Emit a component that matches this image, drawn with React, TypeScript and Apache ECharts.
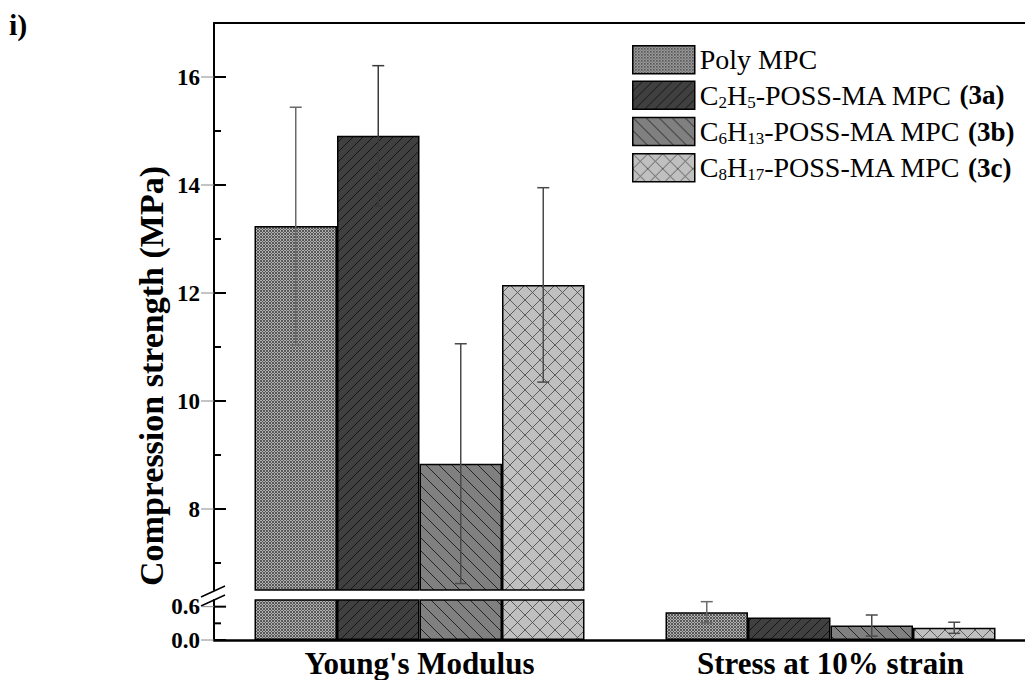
import React, { useEffect, useRef } from "react";
import * as echarts from "echarts";

const categories = ["Young's Modulus", "Stress at 10% strain"];
const seriesNames = [
  "Poly MPC",
  "C2H5-POSS-MA MPC (3a)",
  "C6H13-POSS-MA MPC (3b)",
  "C8H17-POSS-MA MPC (3c)",
];
const polyMPC = [13.24, 0.5];
const c2h5 = [14.91, 0.405];
const c6h13 = [8.84, 0.26];
const c8h17 = [12.15, 0.22];
const polyErr = [2.2, 0.19];
const c2h5Err = [1.3, 0];
const c6h13Err = [2.22, 0.19];
const c8h17Err = [1.8, 0.1];

const upperTicks = [8, 10, 12, 14, 16];
const upperMinor = [7, 9, 11, 13, 15];
const lowerTicks = [0, 0.6];
const lowerMinor = [0.3];

const FONT = "Liberation Serif";
const BAR_W = 82.5;
const AXIS_X = 214;

function makePattern(kind: number) {
  const c = document.createElement("canvas");
  const ctx = c.getContext("2d")!;
  if (kind === 0) {
    c.width = 3;
    c.height = 3;
    ctx.fillStyle = "#b0b0b0";
    ctx.fillRect(0, 0, 3, 3);
    ctx.fillStyle = "#585858";
    ctx.fillRect(0, 0, 1, 1);
    ctx.fillRect(1, 1, 1, 1);
    ctx.fillRect(2, 2, 1, 1);
    ctx.fillRect(2, 0, 1, 1);
    ctx.fillRect(0, 2, 1, 1);
  } else if (kind === 1) {
    const s = 10;
    c.width = s;
    c.height = s;
    ctx.fillStyle = "#404040";
    ctx.fillRect(0, 0, s, s);
    ctx.strokeStyle = "#111";
    ctx.lineWidth = 0.9;
    ctx.beginPath();
    ctx.moveTo(-1, s + 1);
    ctx.lineTo(s + 1, -1);
    ctx.moveTo(-1, 1);
    ctx.lineTo(1, -1);
    ctx.moveTo(s - 1, s + 1);
    ctx.lineTo(s + 1, s - 1);
    ctx.stroke();
  } else if (kind === 2) {
    const s = 13;
    c.width = s;
    c.height = s;
    ctx.fillStyle = "#808080";
    ctx.fillRect(0, 0, s, s);
    ctx.strokeStyle = "#1a1a1a";
    ctx.lineWidth = 0.9;
    ctx.beginPath();
    ctx.moveTo(-1, -1);
    ctx.lineTo(s + 1, s + 1);
    ctx.moveTo(s - 1, -1);
    ctx.lineTo(s + 1, 1);
    ctx.moveTo(-1, s - 1);
    ctx.lineTo(1, s + 1);
    ctx.stroke();
  } else {
    const s = 15;
    c.width = s;
    c.height = s;
    ctx.fillStyle = "#c0c0c0";
    ctx.fillRect(0, 0, s, s);
    ctx.strokeStyle = "#505050";
    ctx.lineWidth = 0.9;
    ctx.beginPath();
    ctx.moveTo(-1, -1);
    ctx.lineTo(s + 1, s + 1);
    ctx.moveTo(-1, s + 1);
    ctx.lineTo(s + 1, -1);
    ctx.stroke();
  }
  return { image: c, repeat: "repeat" } as any;
}

const richLabel: Record<string, string> = {
  "Poly MPC": "{n|Poly MPC}",
  "C2H5-POSS-MA MPC (3a)": "{n|C}{s|2}{n|H}{s|5}{n|-POSS-MA MPC }{b|(3a)}",
  "C6H13-POSS-MA MPC (3b)": "{n|C}{s|6}{n|H}{s|13}{n|-POSS-MA MPC }{b|(3b)}",
  "C8H17-POSS-MA MPC (3c)": "{n|C}{s|8}{n|H}{s|17}{n|-POSS-MA MPC }{b|(3c)}",
};

export default function App() {
  const ref = useRef<HTMLDivElement>(null);
  useEffect(() => {
    if (!ref.current) return;
    const chart = echarts.init(ref.current, undefined, { renderer: "svg" });
    const values = [polyMPC, c2h5, c6h13, c8h17];
    const errs = [polyErr, c2h5Err, c6h13Err, c8h17Err];
    const errColors = ["#6a6a6a", "#3a3a3a", "#4a4a4a", "#4a4a4a"];
    const patterns = [0, 1, 2, 3].map((k) => makePattern(k));

    const upperMin = 6.5,
      upperMax = 17,
      lowerMin = 0,
      lowerMax = 0.72;

    const mkY = (grid: number, min: number, max: number, ticks: number[], fmt: (v: number) => string) => ({
      type: "value",
      gridIndex: grid,
      position: "left",
      min,
      max,
      splitLine: { show: false },
      axisLine: { show: true, lineStyle: { color: "#000", width: 2 } },
      axisTick: { show: false },
      axisLabel: {
        fontFamily: FONT,
        fontWeight: "bold",
        fontSize: 23,
        color: "#000",
        margin: 14,
        customValues: ticks,
        formatter: fmt,
      },
    });

    const series: any[] = [];
    values.forEach((v, i) => {
      series.push({
        type: "bar",
        name: seriesNames[i],
        xAxisIndex: 0,
        yAxisIndex: 0,
        barWidth: BAR_W,
        barGap: "0%",
        data: [v[0], "-"],
        itemStyle: { color: patterns[i], borderColor: "#000", borderWidth: 1.5 },
        emphasis: { disabled: true },
      });
    });
    values.forEach((v, i) => {
      series.push({
        type: "bar",
        name: seriesNames[i],
        xAxisIndex: 1,
        yAxisIndex: 1,
        barWidth: BAR_W,
        barGap: "0%",
        data: [v[0], v[1]],
        itemStyle: { color: patterns[i], borderColor: "#000", borderWidth: 1.5 },
        emphasis: { disabled: true },
      });
    });

    const errRender = (idx: number) => (params: any, api: any) => {
      const cat = api.value(0);
      const lo = api.value(1);
      const hi = api.value(2);
      const pLo = api.coord([cat, lo]);
      const pHi = api.coord([cat, hi]);
      const x = pLo[0] + (idx - 1.5) * BAR_W;
      const st = { stroke: errColors[idx], lineWidth: 1.5 };
      return {
        type: "group",
        children: [
          { type: "line", shape: { x1: x, y1: pLo[1], x2: x, y2: pHi[1] }, style: st },
          { type: "line", shape: { x1: x - 6, y1: pHi[1], x2: x + 6, y2: pHi[1] }, style: st },
          { type: "line", shape: { x1: x - 6, y1: pLo[1], x2: x + 6, y2: pLo[1] }, style: st },
        ],
      };
    };

    values.forEach((v, i) => {
      series.push({
        type: "custom",
        xAxisIndex: 0,
        yAxisIndex: 0,
        z: 5,
        renderItem: errRender(i),
        encode: { x: 0, y: [1, 2] },
        data: [[0, v[0] - errs[i][0], v[0] + errs[i][0]]],
      });
      if (errs[i][1] > 0) {
        series.push({
          type: "custom",
          xAxisIndex: 1,
          yAxisIndex: 1,
          z: 5,
          renderItem: errRender(i),
          encode: { x: 0, y: [1, 2] },
          data: [[1, v[1] - errs[i][1], v[1] + errs[i][1]]],
        });
      }
    });

    const baseGraphic: any[] = [
      {
        id: "ytitle",
        type: "text",
        x: 151,
        y: 376,
        rotation: Math.PI / 2,
        style: {
          text: "Compression strength (MPa)",
          fontFamily: FONT,
          fontWeight: "bold",
          fontSize: 34,
          fill: "#000",
          align: "center",
          verticalAlign: "middle",
        },
      },
      {
        id: "panel",
        type: "text",
        x: 9,
        y: 24,
        style: {
          text: "i)",
          fontFamily: FONT,
          fontWeight: "bold",
          fontSize: 30,
          fill: "#000",
          align: "left",
          verticalAlign: "middle",
        },
      },
      {
        id: "brk1",
        type: "line",
        shape: { x1: 201, y1: 597, x2: 225, y2: 586 },
        style: { stroke: "#000", lineWidth: 1.5 },
      },
      {
        id: "brk2",
        type: "line",
        shape: { x1: 201, y1: 606, x2: 225, y2: 595 },
        style: { stroke: "#000", lineWidth: 1.5 },
      },
    ];

    const option: any = {
      animation: false,
      backgroundColor: "#fff",
      grid: [
        { left: AXIS_X, top: 23, width: 822, height: 567, outerBoundsMode: "none" },
        { left: AXIS_X, top: 600, width: 822, height: 40, outerBoundsMode: "none" },
      ],
      xAxis: [
        {
          type: "category",
          gridIndex: 0,
          data: categories,
          position: "top",
          axisLine: { show: true, onZero: false, lineStyle: { color: "#000", width: 2 } },
          axisTick: { show: false },
          axisLabel: { show: false },
          splitLine: { show: false },
        },
        {
          type: "category",
          gridIndex: 1,
          data: categories,
          position: "bottom",
          axisLine: { show: true, onZero: false, lineStyle: { color: "#000", width: 2.5 } },
          axisTick: { show: false },
          axisLabel: { fontFamily: FONT, fontWeight: "bold", fontSize: 31, color: "#000", margin: 8, lineHeight: 31 },
          splitLine: { show: false },
        },
      ],
      yAxis: [
        mkY(0, upperMin, upperMax, upperTicks, (v) => String(v)),
        mkY(1, lowerMin, lowerMax, lowerTicks, (v) => v.toFixed(1)),
      ],
      legend: {
        orient: "vertical",
        left: 627,
        top: 40,
        itemWidth: 62,
        itemHeight: 28,
        itemGap: 6,
        icon: "rect",
        data: seriesNames,
        selectedMode: false,
        itemStyle: { borderColor: "#000", borderWidth: 1.5 },
        formatter: (name: string) => richLabel[name] || name,
        textStyle: {
          fontFamily: FONT,
          fontSize: 28,
          color: "#000",
          rich: {
            n: { fontFamily: FONT, fontSize: 28, color: "#000", lineHeight: 31, verticalAlign: "middle" },
            s: { fontFamily: FONT, fontSize: 17, color: "#000", lineHeight: 11, verticalAlign: "bottom" },
            b: { fontFamily: FONT, fontSize: 27, fontWeight: "bold", color: "#000", lineHeight: 31, verticalAlign: "middle" },
          },
        },
      },
      graphic: baseGraphic,
      series,
    };
    chart.setOption(option);

    // tick marks placed through the y scales
    const tickGraphic: any[] = [];
    const addTicks = (axisIndex: number, vals: number[], major: boolean) => {
      vals.forEach((v, k) => {
        const r: any = chart.convertToPixel({ yAxisIndex: axisIndex } as any, v);
        const y = Array.isArray(r) ? r[1] : r;
        if (typeof y !== "number" || isNaN(y)) return;
        tickGraphic.push({
          id: `tin-${axisIndex}-${major ? "M" : "m"}-${k}`,
          type: "line",
          z: 50,
          shape: { x1: AXIS_X, y1: y, x2: AXIS_X + (major ? 12 : 7), y2: y },
          style: { stroke: "#000", lineWidth: 2 },
        });
        if (major) {
          tickGraphic.push({
            id: `tout-${axisIndex}-${k}`,
            type: "line",
            z: 50,
            shape: { x1: AXIS_X - 13, y1: y, x2: AXIS_X, y2: y },
            style: { stroke: "#8a8a8a", lineWidth: 1 },
          });
        }
      });
    };
    addTicks(0, upperTicks, true);
    addTicks(0, upperMinor, false);
    addTicks(1, lowerTicks, true);
    addTicks(1, lowerMinor, false);
    chart.setOption({ graphic: [...baseGraphic, ...tickGraphic] });

    return () => chart.dispose();
  }, []);
  return (
    <div
      ref={ref}
      style={{ position: "fixed", left: 0, top: 0, width: 1025, height: 680, background: "#fff" }}
    />
  );
}
